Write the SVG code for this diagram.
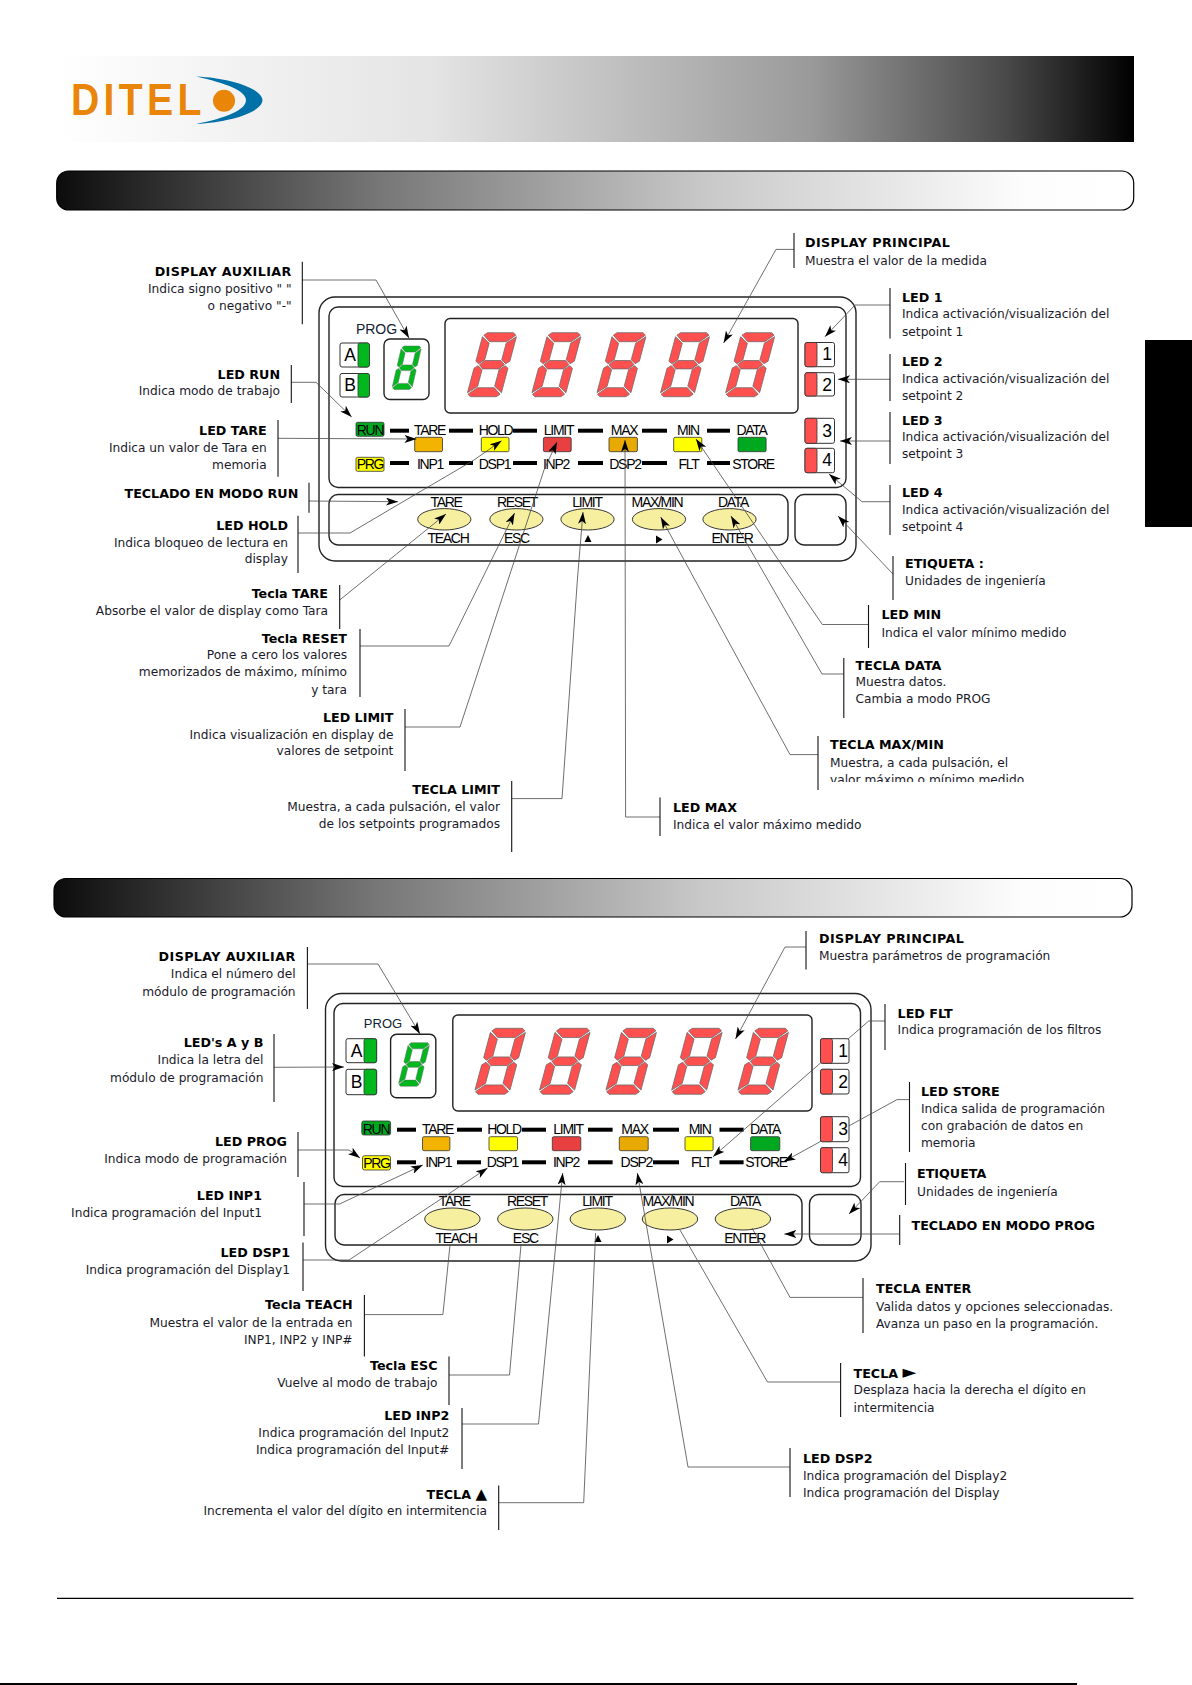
<svg xmlns="http://www.w3.org/2000/svg" width="1192" height="1685" viewBox="0 0 1192 1685">
<style>
text{font-family:"DejaVu Sans","Liberation Sans",sans-serif;font-size:12.2px;fill:#1a1a2a}
.b{font-weight:bold;font-size:12.7px;fill:#000}
.w{letter-spacing:.4px}
.e{text-anchor:end}
.p,.n{font-family:"Liberation Sans",Arial,sans-serif;fill:#000}
.p{font-size:14px;letter-spacing:-1.3px;text-anchor:middle}
.n{font-size:17.500px;text-anchor:middle}
.box{fill:#fff;stroke:#222;stroke-width:1.4}
.thin{fill:#fff;stroke:#333;stroke-width:1}
.led{stroke:#333;stroke-width:.8}
.key{fill:#f6efa0;stroke:#222;stroke-width:.9}
.dash{stroke:#000;stroke-width:4}
.lead{fill:none;stroke:#4a4a4a;stroke-width:.8}
.arr{marker-end:url(#ah)}
.v{stroke:#111;stroke-width:1.1}
.dig polygon{stroke:#666;stroke-width:.7}
.red{fill:#ff5050}.grn{fill:#00b81e}.ora{fill:#f2b400}.yel{fill:#ffff00}.dred{fill:#e84040}.amb{fill:#e8aa00}.dgrn{fill:#00a820}
</style>
<defs>
<linearGradient id="gh" x1="0" x2="1" y1="0" y2="0"><stop offset="0" stop-color="#fff"/><stop offset=".35" stop-color="#e4e4e4"/><stop offset=".7" stop-color="#9a9a9a"/><stop offset=".88" stop-color="#4a4a4a"/><stop offset="1" stop-color="#000"/></linearGradient>
<linearGradient id="gb" x1="0" x2="1" y1="0" y2="0"><stop offset="0" stop-color="#0c0c0c"/><stop offset=".3" stop-color="#777"/><stop offset=".6" stop-color="#c8c8c8"/><stop offset=".9" stop-color="#fdfdfd"/><stop offset="1" stop-color="#fff"/></linearGradient>
<marker id="ah" viewBox="0 0 12 8" refX="12" refY="4" markerWidth="12" markerHeight="8" markerUnits="userSpaceOnUse" orient="auto"><path d="M12,4 L0,0 L3,4 L0,8 Z" fill="#000"/></marker>
<clipPath id="cut"><rect x="820" y="740" width="300" height="42"/></clipPath>
<g id="dg" class="dig" transform="translate(17,0) skewX(-15)">
<polygon points="4,0 30,0 33,2.500 25.500,9 8.500,9 1,2.500"/>
<polygon points="0,4 8.500,10.500 8.500,27 3.500,31 0,28.500"/>
<polygon points="34,4 25.500,10.500 25.500,27 30.500,31 34,28.500"/>
<polygon points="9,27.800 25,27.800 29.500,32 25,36.200 9,36.200 4.500,32"/>
<polygon points="0,60 8.500,53.500 8.500,37 3.500,33 0,35.500"/>
<polygon points="34,60 25.500,53.500 25.500,37 30.500,33 34,35.500"/>
<polygon points="4,64 30,64 33,61.500 25.500,55 8.500,55 1,61.500"/>
</g>
</defs>
<rect width="1192" height="1685" fill="#fff"/>

<g id="header">
<rect x="56" y="56" width="1078" height="86" fill="url(#gh)"/>
<text transform="translate(71,115.300) scale(.87,1)" x="0" y="0" style="font-family:'Liberation Sans',sans-serif;font-size:45px;font-weight:bold;letter-spacing:5px;fill:#e98508">DITEL</text>
<path d="M196,76.500 C232,78 262,89 262.500,100 C262,112 232,122 196,124 C226,118 246,110 246,100 C246,91 226,83 196,76.500 Z" fill="#0070a8"/>
<circle cx="224" cy="100.700" r="11" fill="#e98508"/>
</g>
<rect id="bar1" x="56.700" y="171" width="1077" height="39" rx="12" fill="url(#gb)" stroke="#000" stroke-width="1.200"/>
<rect id="bar2" x="54" y="878.500" width="1078" height="38.500" rx="12" fill="url(#gb)" stroke="#000" stroke-width="1.200"/>
<rect id="tab" x="1145" y="340" width="47" height="187" fill="#000"/>
<line id="footer" x1="57" y1="1598.400" x2="1133.500" y2="1598.400" stroke="#000" stroke-width="1.400"/>
<line id="edge" x1="0" y1="1684" x2="1077" y2="1684" stroke="#000" stroke-width="2"/>

<g id="panel1">
<rect class="box" x="319" y="297" width="537" height="264" rx="16"/>
<rect class="box" x="329" y="307" width="517" height="180.500" rx="9"/>
<rect class="box" x="329" y="494.500" width="459" height="50.500" rx="9"/>
<rect class="box" x="795" y="494.500" width="51" height="50.500" rx="9"/>
<rect class="box" x="445" y="318.500" width="353" height="94.500" rx="5"/>
<rect class="box" x="384" y="339" width="45" height="60.500" rx="6"/>
<text x="376.500" y="334" style="font-family:'Liberation Sans',sans-serif;font-size:14px;text-anchor:middle;fill:#123">PROG</text>
<rect class="thin" x="340" y="343" width="29" height="24" rx="2"/><rect class="grn led" x="358" y="343" width="11.500" height="24" rx="2"/><text class="n" x="350" y="361">A</text>
<rect class="thin" x="340" y="373.500" width="29" height="23.500" rx="2"/><rect class="grn led" x="358" y="373.500" width="11.500" height="23.500" rx="2"/><text class="n" x="350" y="391">B</text>
<use href="#dg" class="grn" transform="translate(391.700,346) scale(.59,.68)"/>
<use href="#dg" class="red" transform="translate(466.500,332.700)"/>
<use href="#dg" class="red" transform="translate(531,332.700)"/>
<use href="#dg" class="red" transform="translate(596,332.700)"/>
<use href="#dg" class="red" transform="translate(659.600,332.700)"/>
<use href="#dg" class="red" transform="translate(724.700,332.700)"/>
<rect class="thin" x="805" y="342.500" width="29.500" height="24.200" rx="2"/><rect class="red led" x="805" y="342.500" width="12" height="24.200" rx="2"/><text class="n" x="827" y="360">1</text>
<rect class="thin" x="805" y="372.700" width="29.500" height="23.300" rx="2"/><rect class="red led" x="805" y="372.700" width="12" height="23.300" rx="2"/><text class="n" x="827" y="391">2</text>
<rect class="thin" x="805" y="418.300" width="29.500" height="25" rx="2"/><rect class="red led" x="805" y="418.300" width="12" height="25" rx="2"/><text class="n" x="827" y="437">3</text>
<rect class="thin" x="805" y="448.300" width="29.500" height="24.400" rx="2"/><rect class="red led" x="805" y="448.300" width="12" height="24.400" rx="2"/><text class="n" x="827" y="466">4</text>
<rect class="dgrn led" x="356" y="422.300" width="28" height="14" rx="1.500"/><text class="p" x="370" y="435">RUN</text>
<rect class="yel led" x="356" y="457.300" width="28" height="14" rx="1.500"/><text class="p" x="370" y="469">PRG</text>
<g class="dash"><line x1="390" x2="409" y1="430.700" y2="430.700"/><line x1="449" x2="473" y1="430.700" y2="430.700"/><line x1="513" x2="537" y1="430.700" y2="430.700"/><line x1="578" x2="603" y1="430.700" y2="430.700"/><line x1="642" x2="667" y1="430.700" y2="430.700"/><line x1="707" x2="730" y1="430.700" y2="430.700"/><line x1="390" x2="409" y1="463" y2="463"/><line x1="449" x2="473" y1="463" y2="463"/><line x1="513" x2="537" y1="463" y2="463"/><line x1="578" x2="603" y1="463" y2="463"/><line x1="642" x2="667" y1="463" y2="463"/><line x1="707" x2="730" y1="463" y2="463"/></g>
<text class="p" x="429.500" y="435">TARE</text><text class="p" x="495.500" y="435">HOLD</text><text class="p" x="558.500" y="435">LIMIT</text><text class="p" x="624" y="435">MAX</text><text class="p" x="688" y="435">MIN</text><text class="p" x="751.500" y="435">DATA</text>
<rect class="ora led" x="414.700" y="437.300" width="27.800" height="14.400" rx="1.500"/><rect class="yel led" x="481.300" y="437.300" width="27.700" height="14.400" rx="1.500"/><rect class="dred led" x="543.400" y="437.300" width="27.800" height="14.400" rx="1.500"/><rect class="amb led" x="609" y="437.300" width="28.400" height="14.400" rx="1.500"/><rect class="yel led" x="673.700" y="437.300" width="28.100" height="14.400" rx="1.500"/><rect class="dgrn led" x="738" y="437.300" width="28.100" height="14.400" rx="1.500"/>
<text class="p" x="430" y="469">INP1</text><text class="p" x="494.500" y="469">DSP1</text><text class="p" x="556" y="469">INP2</text><text class="p" x="625" y="469">DSP2</text><text class="p" x="688.500" y="469">FLT</text><text class="p" x="753" y="469">STORE</text>
<ellipse class="key" cx="444.300" cy="519.300" rx="26.600" ry="10.700"/><ellipse class="key" cx="516.400" cy="519.300" rx="26.600" ry="10.700"/><ellipse class="key" cx="587.500" cy="519.300" rx="26.600" ry="10.700"/><ellipse class="key" cx="659" cy="519.300" rx="26.600" ry="10.700"/><ellipse class="key" cx="729.500" cy="519.300" rx="26.600" ry="10.700"/>
<text class="p" x="446" y="506.500">TARE</text><text class="p" x="517" y="506.500">RESET</text><text class="p" x="587" y="506.500">LIMIT</text><text class="p" x="657" y="506.500">MAX/MIN</text><text class="p" x="733" y="506.500">DATA</text>
<text class="p" x="448" y="542.700">TEACH</text><text class="p" x="516.500" y="542.700">ESC</text><text class="p" x="732" y="542.700">ENTER</text>
<polygon points="588,535 591.500,542 584.500,542" fill="#000"/><polygon points="656,535.500 662.500,539.500 656,543.500" fill="#000"/>
</g>

<g id="panel2">
<rect class="box" x="325.500" y="993.500" width="545.500" height="267.500" rx="16"/>
<rect class="box" x="334" y="1003.500" width="526.500" height="183" rx="9"/>
<rect class="box" x="335" y="1194.500" width="467" height="50.500" rx="9"/>
<rect class="box" x="809.500" y="1194.500" width="51.500" height="50.500" rx="9"/>
<rect class="box" x="452.800" y="1015" width="359.200" height="96" rx="5"/>
<rect class="box" x="390.600" y="1034.300" width="45.200" height="63.400" rx="6"/>
<text x="383" y="1028" style="font-family:'Liberation Sans',sans-serif;font-size:13px;text-anchor:middle;fill:#123">PROG</text>
<rect class="thin" x="346" y="1038.700" width="30.600" height="24" rx="2"/><rect class="grn led" x="364" y="1038.700" width="12.600" height="24" rx="2"/><text class="n" x="356.500" y="1057">A</text>
<rect class="thin" x="346" y="1069.300" width="30.600" height="25.400" rx="2"/><rect class="grn led" x="364" y="1069.300" width="12.600" height="25.400" rx="2"/><text class="n" x="356.500" y="1088">B</text>
<use href="#dg" class="grn" transform="translate(398,1042.700) scale(.63,.68)"/>
<use href="#dg" class="red" transform="translate(474,1028.300) scale(1.03)"/>
<use href="#dg" class="red" transform="translate(538.600,1028.300) scale(1.03)"/>
<use href="#dg" class="red" transform="translate(605,1028.300) scale(1.03)"/>
<use href="#dg" class="red" transform="translate(670.700,1028.300) scale(1.03)"/>
<use href="#dg" class="red" transform="translate(737,1028.300) scale(1.03)"/>
<rect class="dgrn led" x="361.800" y="1121" width="28.800" height="14" rx="2"/><text class="p" x="376" y="1134">RUN</text>
<rect class="yel led" x="362.500" y="1155.700" width="28" height="14.300" rx="2"/><text class="p" x="376.500" y="1167.500">PRG</text>
<g class="dash"><line x1="397" x2="416" y1="1129.700" y2="1129.700"/><line x1="457" x2="482" y1="1129.700" y2="1129.700"/><line x1="522" x2="546" y1="1129.700" y2="1129.700"/><line x1="588" x2="612.600" y1="1129.700" y2="1129.700"/><line x1="653" x2="679" y1="1129.700" y2="1129.700"/><line x1="719.500" x2="743.600" y1="1129.700" y2="1129.700"/><line x1="397" x2="416" y1="1162.300" y2="1162.300"/><line x1="457" x2="481" y1="1162.300" y2="1162.300"/><line x1="522" x2="546" y1="1162.300" y2="1162.300"/><line x1="588" x2="612.600" y1="1162.300" y2="1162.300"/><line x1="653" x2="679" y1="1162.300" y2="1162.300"/><line x1="719.500" x2="743.600" y1="1162.300" y2="1162.300"/></g>
<text class="p" x="437.600" y="1133.500">TARE</text><text class="p" x="504" y="1133.500">HOLD</text><text class="p" x="568" y="1133.500">LIMIT</text><text class="p" x="634.500" y="1133.500">MAX</text><text class="p" x="699.600" y="1133.500">MIN</text><text class="p" x="765" y="1133.500">DATA</text>
<rect class="ora led" x="422.500" y="1136.700" width="27.400" height="14" rx="1.500"/><rect class="yel led" x="489" y="1136.700" width="28.500" height="14" rx="1.500"/><rect class="dred led" x="552.300" y="1136.700" width="28.500" height="14" rx="1.500"/><rect class="amb led" x="619.300" y="1136.700" width="28.900" height="14" rx="1.500"/><rect class="yel led" x="685" y="1136.700" width="28.100" height="14" rx="1.500"/><rect class="dgrn led" x="750.600" y="1136.700" width="29.200" height="14" rx="1.500"/>
<text class="p" x="438.300" y="1166.500">INP1</text><text class="p" x="502.400" y="1166.500">DSP1</text><text class="p" x="566" y="1166.500">INP2</text><text class="p" x="636.300" y="1166.500">DSP2</text><text class="p" x="701" y="1166.500">FLT</text><text class="p" x="766" y="1166.500">STORE</text>
<ellipse class="key" cx="452.400" cy="1219" rx="27.700" ry="11"/><ellipse class="key" cx="525.300" cy="1219" rx="27.700" ry="11"/><ellipse class="key" cx="597.800" cy="1219" rx="27.700" ry="11"/><ellipse class="key" cx="670" cy="1219" rx="27.700" ry="11"/><ellipse class="key" cx="742.900" cy="1219" rx="27.700" ry="11"/>
<text class="p" x="454.300" y="1206">TARE</text><text class="p" x="527" y="1206">RESET</text><text class="p" x="597" y="1206">LIMIT</text><text class="p" x="668" y="1206">MAX/MIN</text><text class="p" x="745" y="1206">DATA</text>
<text class="p" x="456" y="1242.700">TEACH</text><text class="p" x="525.300" y="1242.700">ESC</text><text class="p" x="744.700" y="1242.700">ENTER</text>
<polygon points="598,1235 601.500,1242 594.500,1242" fill="#000"/><polygon points="667,1235.500 673.500,1239.500 667,1243.500" fill="#000"/>
</g>

<g id="connectors">
<polyline class="lead arr" points="302,280 376,280 409,338"/>
<polyline class="lead arr" points="291,382.300 316,382.300 351.700,417"/>
<polyline class="lead arr" points="278,438.300 416.500,439"/>
<polyline class="lead arr" points="309,501 398,501.700"/>
<polyline class="lead arr" points="298,533 350,533 411,497 474,460 501.600,440.700"/>
<polyline class="lead arr" points="339.700,600 446,514"/>
<polyline class="lead arr" points="360,646 449,646 514.600,513"/>
<polyline class="lead arr" points="405,727 460,727 544,470 557,442"/>
<polyline class="lead arr" points="511.700,798.600 562,798.600 577.500,578 583,512"/>
<polyline class="lead arr" points="660,817 625.600,817 625,440"/>
<polyline class="lead arr" points="818,754.600 790,754.600 660.700,517"/>
<polyline class="lead arr" points="843.800,674 822,674 731,516"/>
<polyline class="lead arr" points="868.500,624.500 822.300,624.500 696,439"/>
<polyline class="lead arr" points="893,574 838,516"/>
<polyline class="lead arr" points="890,501.700 862,501.700 829,474"/>
<polyline class="lead arr" points="890,441 840,441"/>
<polyline class="lead arr" points="890,379.300 838,379.300"/>
<polyline class="lead arr" points="890,305 855,305 825,336.700"/>
<polyline class="lead arr" points="794,249.400 776,249.400 723.600,343"/>
<polyline class="lead arr" points="307,964 378,964 420,1034"/>
<polyline class="lead arr" points="806,947 785,947 735.500,1039"/>
<polyline class="lead arr" points="885,1021 868.700,1021 713,1156.700"/>
<polyline class="lead arr" points="910,1099.600 897,1099.600 783.600,1161.700"/>
<polyline class="lead arr" points="904,1181.700 879.700,1181.700 849,1214"/>
<polyline class="lead arr" points="899.700,1234 784.300,1234"/>
<polyline class="lead" points="863,1297.400 790,1297.400 752,1228"/>
<polyline class="lead" points="840.600,1382 767.500,1382 680,1230"/>
<polyline class="lead arr" points="790,1467 688,1467 637.400,1173"/>
<polyline class="lead" points="498.700,1502.700 583.700,1502.700 595.600,1233"/>
<polyline class="lead arr" points="462,1424 538.500,1424 562.700,1173"/>
<polyline class="lead" points="449,1375 509.500,1375 521,1245"/>
<polyline class="lead" points="364.400,1314.600 442.900,1314.600 450,1245"/>
<polyline class="lead arr" points="303,1260 349,1260 487.600,1168"/>
<polyline class="lead arr" points="304,1204 339.600,1204 422.800,1165"/>
<polyline class="lead arr" points="298,1150 349,1150 360,1158"/>
<polyline class="lead arr" points="274,1067.300 344,1067"/>
<g class="v">
<line x1="302.300" x2="302.300" y1="261.700" y2="324.300"/><line x1="291.300" x2="291.300" y1="365" y2="403"/><line x1="278" x2="278" y1="420" y2="476.700"/><line x1="309" x2="309" y1="482.700" y2="512.700"/><line x1="298" x2="298" y1="515.700" y2="573"/><line x1="339.700" x2="339.700" y1="585" y2="629"/><line x1="360" x2="360" y1="629" y2="697"/><line x1="405" x2="405" y1="709" y2="771"/><line x1="511.700" x2="511.700" y1="781" y2="852"/><line x1="660" x2="660" y1="797.600" y2="836"/><line x1="818" x2="818" y1="736" y2="790"/><line x1="843.800" x2="843.800" y1="658" y2="718"/><line x1="868.500" x2="868.500" y1="605" y2="648"/><line x1="893" x2="893" y1="556" y2="600"/><line x1="890" x2="890" y1="485" y2="535"/><line x1="890" x2="890" y1="412" y2="464"/><line x1="890" x2="890" y1="354" y2="401"/><line x1="890" x2="890" y1="288" y2="338.600"/><line x1="794" x2="794" y1="233" y2="268"/>
<line x1="307.400" x2="307.400" y1="947" y2="1009"/><line x1="806" x2="806" y1="931" y2="969.600"/><line x1="885" x2="885" y1="1004" y2="1050"/><line x1="909.500" x2="909.500" y1="1082" y2="1152"/><line x1="905.500" x2="905.500" y1="1163" y2="1205"/><line x1="899.700" x2="899.700" y1="1215" y2="1245"/><line x1="863" x2="863" y1="1278" y2="1333"/><line x1="840.600" x2="840.600" y1="1363" y2="1417"/><line x1="790" x2="790" y1="1448" y2="1497"/><line x1="498.700" x2="498.700" y1="1485.500" y2="1530"/><line x1="462" x2="462" y1="1408" y2="1469"/><line x1="449" x2="449" y1="1356.500" y2="1405"/><line x1="364.400" x2="364.400" y1="1295" y2="1356.500"/><line x1="303" x2="303" y1="1242.600" y2="1291"/><line x1="304" x2="304" y1="1182" y2="1236"/><line x1="298" x2="298" y1="1132" y2="1177"/><line x1="274" x2="274" y1="1034" y2="1102"/>
</g>
</g>

<g id="panel2-setpoints">
<rect class="thin" x="820.500" y="1038.700" width="28.500" height="24.600" rx="2"/><rect class="red led" x="820.500" y="1038.700" width="12" height="24.600" rx="2"/><text class="n" x="843" y="1057">1</text>
<rect class="thin" x="820.500" y="1069.300" width="28.500" height="24.700" rx="2"/><rect class="red led" x="820.500" y="1069.300" width="12" height="24.700" rx="2"/><text class="n" x="843" y="1087.500">2</text>
<rect class="thin" x="820.500" y="1116.700" width="28.500" height="25" rx="2"/><rect class="red led" x="820.500" y="1116.700" width="12" height="25" rx="2"/><text class="n" x="843" y="1135">3</text>
<rect class="thin" x="820.500" y="1147.700" width="28.500" height="25" rx="2"/><rect class="red led" x="820.500" y="1147.700" width="12" height="25" rx="2"/><text class="n" x="843" y="1166">4</text>
</g>

<g id="labels-run">
<g id="l-aux"><text class="b e w" x="291.700" y="275.700">DISPLAY AUXILIAR</text><text class="e" x="291.700" y="292.700">Indica signo positivo " "</text><text class="e" x="291.700" y="310">o negativo "-"</text></g>
<g id="l-run"><text class="b e" x="280" y="379.300">LED RUN</text><text class="e" x="280" y="395.300">Indica modo de trabajo</text></g>
<g id="l-tare"><text class="b e" x="266.700" y="435">LED TARE</text><text class="e" x="266.700" y="452.300">Indica un valor de Tara en</text><text class="e" x="266.700" y="469.300">memoria</text></g>
<g id="l-teclado"><text class="b e" x="298.300" y="498.300">TECLADO EN MODO RUN</text></g>
<g id="l-hold"><text class="b e" x="288" y="530">LED HOLD</text><text class="e" x="288" y="547">Indica bloqueo de lectura en</text><text class="e" x="288" y="563">display</text></g>
<g id="l-ttare"><text class="b e" x="328" y="598">Tecla TARE</text><text class="e" x="328" y="615">Absorbe el valor de display como Tara</text></g>
<g id="l-reset"><text class="b e" x="347" y="643">Tecla RESET</text><text class="e" x="347" y="659">Pone a cero los valores</text><text class="e" x="347" y="676">memorizados de máximo, mínimo</text><text class="e" x="347" y="693.500">y tara</text></g>
<g id="l-limit"><text class="b e" x="393.400" y="721.500">LED LIMIT</text><text class="e" x="393.400" y="738.600">Indica visualización en display de</text><text class="e" x="393.400" y="755">valores de  setpoint</text></g>
<g id="l-tlimit"><text class="b e" x="500" y="793.500">TECLA LIMIT</text><text class="e" x="500" y="810.700">Muestra, a cada pulsación, el valor</text><text class="e" x="500" y="828">de los setpoints programados</text></g>
<g id="l-princ"><text class="b w" x="805" y="247.400">DISPLAY PRINCIPAL</text><text x="805" y="264.600">Muestra el valor de la medida</text></g>
<g id="l-led1"><text class="b" x="902" y="302">LED 1</text><text x="902" y="318.400">Indica activación/visualización del</text><text x="902" y="335.600">setpoint 1</text></g>
<g id="l-led2"><text class="b" x="902" y="365.600">LED 2</text><text x="902" y="382.900">Indica activación/visualización del</text><text x="902" y="400">setpoint 2</text></g>
<g id="l-led3"><text class="b" x="902" y="424.800">LED 3</text><text x="902" y="441">Indica activación/visualización del</text><text x="902" y="458">setpoint 3</text></g>
<g id="l-led4"><text class="b" x="902" y="497">LED 4</text><text x="902" y="514">Indica activación/visualización del</text><text x="902" y="531">setpoint 4</text></g>
<g id="l-etq"><text class="b" x="905" y="568">ETIQUETA :</text><text x="905" y="585">Unidades de ingeniería</text></g>
<g id="l-min"><text class="b" x="881.500" y="619.300">LED MIN</text><text x="881.500" y="636.500">Indica el valor mínimo medido</text></g>
<g id="l-data"><text class="b" x="855.600" y="670">TECLA DATA</text><text x="855.600" y="686">Muestra datos.</text><text x="855.600" y="703">Cambia a modo PROG</text></g>
<g id="l-maxmin"><text class="b" x="830" y="749.400">TECLA MAX/MIN</text><text x="830" y="766.600">Muestra, a cada pulsación, el</text><text x="830" y="783.500" clip-path="url(#cut)">valor máximo o mínimo medido</text></g>
<g id="l-max"><text class="b" x="673" y="811.800">LED MAX</text><text x="673" y="829">Indica el valor máximo medido</text></g>
</g>

<g id="labels-prog">
<g id="p-aux"><text class="b e w" x="295.600" y="961">DISPLAY AUXILIAR</text><text class="e" x="295.600" y="978">Indica el número del</text><text class="e" x="295.600" y="995.600">módulo de  programación</text></g>
<g id="p-ab"><text class="b e" x="263.400" y="1047">LED's A y B</text><text class="e" x="263.400" y="1064">Indica la letra del</text><text class="e" x="263.400" y="1081.600">módulo de programación</text></g>
<g id="p-prog"><text class="b e" x="287" y="1146">LED PROG</text><text class="e" x="287" y="1163">Indica modo de  programación</text></g>
<g id="p-inp1"><text class="b e" x="262" y="1200">LED INP1</text><text class="e" x="262" y="1217">Indica programación del Input1</text></g>
<g id="p-dsp1"><text class="b e" x="290" y="1257">LED DSP1</text><text class="e" x="290" y="1274">Indica programación del Display1</text></g>
<g id="p-teach"><text class="b e" x="352.600" y="1309.400">Tecla TEACH</text><text class="e" x="352.600" y="1326.600">Muestra el valor de la entrada en</text><text class="e" x="352.600" y="1344">INP1, INP2 y INP#</text></g>
<g id="p-esc"><text class="b e" x="437.500" y="1369.600">Tecla ESC</text><text class="e" x="437.500" y="1386.800">Vuelve al modo de trabajo</text></g>
<g id="p-inp2"><text class="b e" x="449.300" y="1420">LED INP2</text><text class="e" x="449.300" y="1437">Indica programación del Input2</text><text class="e" x="449.300" y="1453.500">Indica programación del Input#</text></g>
<g id="p-up"><text class="b e" x="487" y="1498.600">TECLA <tspan font-size="15">▲</tspan></text><text class="e" x="487" y="1514.700">Incrementa el valor del dígito en intermitencia</text></g>
<g id="p-princ"><text class="b w" x="819" y="943">DISPLAY PRINCIPAL</text><text x="819" y="960">Muestra parámetros de programación</text></g>
<g id="p-flt"><text class="b" x="897.600" y="1018">LED FLT</text><text x="897.600" y="1034">Indica programación de los filtros</text></g>
<g id="p-store"><text class="b" x="921" y="1095.500">LED STORE</text><text x="921" y="1112.700">Indica salida de programación</text><text x="921" y="1130">con grabación de datos en</text><text x="921" y="1147">memoria</text></g>
<g id="p-etq"><text class="b" x="917" y="1178">ETIQUETA</text><text x="917" y="1195.500">Unidades de ingeniería</text></g>
<g id="p-teclado"><text class="b" x="911.500" y="1230">TECLADO EN MODO PROG</text></g>
<g id="p-enter"><text class="b" x="876" y="1293">TECLA ENTER</text><text x="876" y="1310.500">Valida datos y opciones seleccionadas.</text><text x="876" y="1328">Avanza un paso en la programación.</text></g>
<g id="p-right"><text class="b" x="853.500" y="1378">TECLA <tspan font-size="18">►</tspan></text><text x="853.500" y="1394.400">Desplaza hacia la derecha el dígito en</text><text x="853.500" y="1411.600">intermitencia</text></g>
<g id="p-dsp2"><text class="b" x="803" y="1463">LED DSP2</text><text x="803" y="1480">Indica programación del Display2</text><text x="803" y="1496.500">Indica programación del Display</text></g>
</g>
</svg>
